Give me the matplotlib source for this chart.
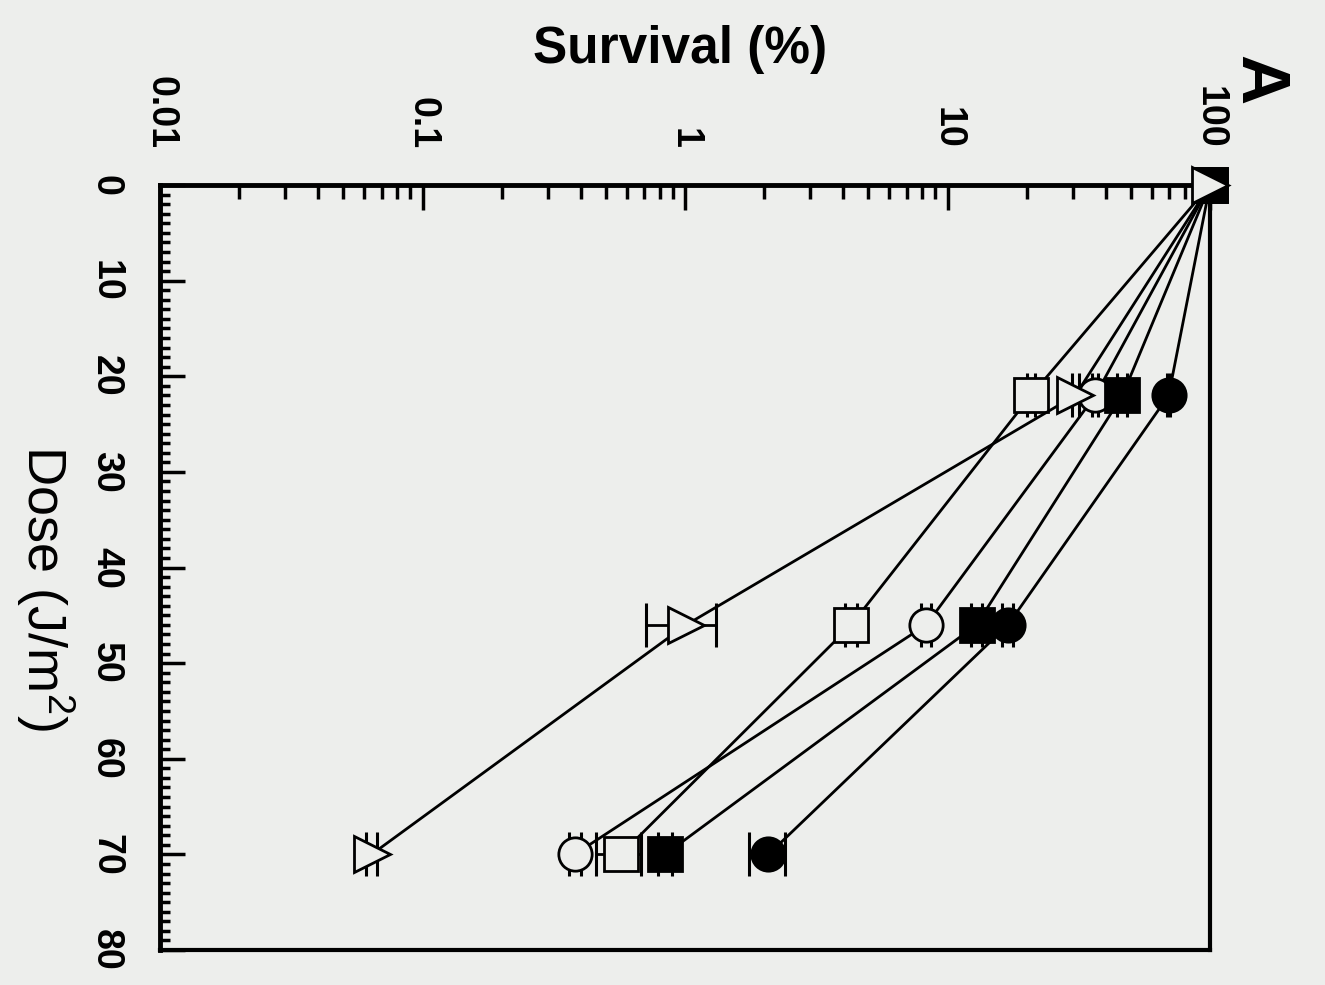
import numpy as np
import matplotlib
matplotlib.use('Agg')
import matplotlib.pyplot as plt
from matplotlib.ticker import LogLocator, MultipleLocator, NullFormatter

plt.rcParams['font.family'] = ['Liberation Sans', 'DejaVu Sans']
plt.rcParams['mathtext.default'] = 'regular'

# dose in J/m2, survival in %
doses = [0, 22, 46, 70]

filled_circle = [100, 69.6, 17.0, 2.08]
filled_circle_err = [0, 1.0, 0.8, 0.32]
filled_square = [100, 46.4, 12.9, 0.84]
filled_square_err = [0, 2.0, 0.6, 0.05]
open_circle = [100, 36.6, 8.3, 0.38]
open_circle_err = [0, 1.0, 0.35, 0.02]
open_square = [100, 20.8, 4.3, 0.57]
open_square_err = [0, 0.7, 0.22, 0.11]
triangle = [100, 30.7, 1.01, 0.064]
triangle_err = [0, 1.0, 0.30, 0.003]

surv_ticks = [0.01, 0.1, 1, 10, 100]
surv_labels = ['0.01', '0.1', '1', '10', '100']
dose_ticks = [0, 10, 20, 30, 40, 50, 60, 70, 80]

bg = '#edeeec'
fig = plt.figure(figsize=(13.25, 9.85), dpi=100, facecolor=bg)
ax = fig.add_axes([160/1325, 1 - 950/985, 1050/1325, (950 - 185)/985])
ax.set_facecolor(bg)

# figure is shown turned a quarter turn: survival runs across, dose runs down
series = [
    (open_circle, open_circle_err, 'o', bg, 24),
    (open_square, open_square_err, 's', bg, 24),
    (filled_circle, filled_circle_err, 'o', 'black', 24),
    (filled_square, filled_square_err, 's', 'black', 24),
    (triangle, triangle_err, '>', bg, 26),
]
for vals, err, mk, fc, ms in series:
    ax.errorbar(vals[1:], doses[1:], xerr=err[1:], fmt='none', ecolor='black',
                elinewidth=2, capsize=16, capthick=2.2, zorder=2)
    ax.plot(vals, doses, color='black', lw=2, marker=mk, ms=ms, mfc=fc,
            mec='black', mew=2, clip_on=False, zorder=3)

ax.set_xscale('log')
ax.set_xlim(0.01, 100)
ax.set_ylim(80, 0)
ax.xaxis.tick_top()
ax.set_xticks(surv_ticks)
ax.set_xticklabels(surv_labels)
ax.xaxis.set_minor_locator(LogLocator(subs=range(2, 10)))
ax.xaxis.set_minor_formatter(NullFormatter())
ax.set_yticks(dose_ticks)
ax.yaxis.set_minor_locator(MultipleLocator(1))

ax.tick_params(which='major', direction='in', length=18, width=2.5,
               labelsize=27, pad=26)
ax.tick_params(which='minor', direction='in', length=7, width=2.5)
ax.tick_params(axis='x', which='minor', length=10)
for t in ax.get_xticklabels():
    t.set_rotation(-90)
    t.set_fontweight('bold')
    t.set_va('bottom')
for t in ax.get_yticklabels():
    t.set_rotation(-90)
    t.set_fontweight('bold')
    t.set_va('center')

for s in ax.spines.values():
    s.set_linewidth(3)
ax.spines['left'].set_linewidth(3.5)
ax.spines['top'].set_linewidth(3.5)

fig.text(680/1325, 1 - 50/985, 'Survival (%)', fontsize=37, fontweight='bold',
         ha='center', va='center')
fig.text(45/1325, 1 - 588/985, 'Dose (J/m$^{2}$)', fontsize=39, rotation=-90,
         ha='center', va='center')
fig.text(1258/1325, 1 - 80/985, 'A', fontsize=50, fontweight='bold',
         rotation=-90, ha='center', va='center')

fig.savefig('out.png', dpi=100, facecolor=bg)
